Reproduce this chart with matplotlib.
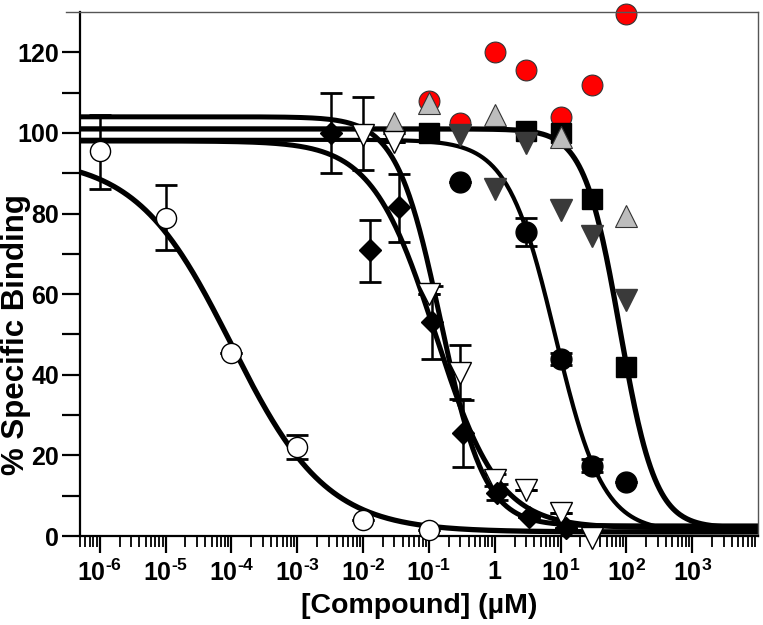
import numpy as np
import matplotlib
matplotlib.use("Agg")
import matplotlib.pyplot as plt
from matplotlib.lines import Line2D
from matplotlib.ticker import FixedLocator, NullFormatter

plt.rcParams['font.family'] = ['Liberation Sans', 'DejaVu Sans']
plt.rcParams['font.weight'] = 'bold'
plt.rcParams['mathtext.fontset'] = 'custom'
plt.rcParams['mathtext.rm'] = 'Liberation Sans:bold'
plt.rcParams['mathtext.bf'] = 'Liberation Sans:bold'
plt.rcParams['mathtext.default'] = 'bf'

# ---------------- data ----------------
# open circles
oc_x = [1e-6, 1e-5, 1e-4, 1e-3, 1e-2, 1e-1]
oc_y = [95.5, 79, 45.5, 22, 4, 1.5]
oc_lo = [86, 71, 45.5, 19, 4, 1.5]
oc_hi = [104.5, 87, 45.5, 25, 4, 1.5]

# black diamonds
di_x = [0.0033, 0.0126, 0.035, 0.11, 0.33, 1.1, 3.3, 12]
di_y = [100, 71, 81.5, 53, 25.5, 10.7, 4.7, 2]
di_lo = [90, 63, 73, 44, 17, 9, 4.7, 2]
di_hi = [110, 78.5, 89.7, 62, 33.7, 13, 4.7, 2]

# open down-triangles
ot_x = [0.01, 0.03, 0.1, 0.3, 1, 3, 10, 30]
ot_y = [99.4, 97.7, 60, 40.5, 13.9, 11.4, 5.7, -0.5]
ot_lo = [90.7, 97.7, 60, 34, 12.5, 11.4, 5.7, -0.5]
ot_hi = [109, 97.7, 60, 47.4, 15.5, 11.4, 5.7, -0.5]

# black circles
bc_x = [0.3, 3, 10, 30, 100]
bc_y = [87.8, 75.4, 44, 17.4, 13.4]
bc_lo = [87.8, 72, 42.5, 16, 13.4]
bc_hi = [87.8, 78.8, 45.5, 19, 13.4]

# black squares
sq_x = [0.1, 3, 10, 30, 100]
sq_y = [100, 100.5, 100, 83.5, 42]

# dark grey down-triangles
dt_x = [0.3, 1, 3, 10, 30, 100]
dt_y = [99.5, 86, 97.5, 81, 74.5, 58.5]

# light grey up-triangles
gt_x = [0.03, 0.1, 1, 10, 100]
gt_y = [102.5, 107.5, 104.5, 99, 79.5]

# red circles
rc_x = [0.1, 0.3, 1, 3, 10, 30, 100]
rc_y = [108, 102.5, 120, 115.5, 104, 112, 129.5]

# fitted curve parameters: top, bottom, logIC50, hill slope
fit_open_circle = [94, 1, -4.0, 0.6]
fit_diamond = [98, 2, -0.9, 0.9]
fit_open_tri = [104, 2.5, -0.82, 1.3]
fit_black_circle = [98.3, 1, 0.92, 1.2]
fit_square = [101, 2, 1.9, 1.6]

xtick_vals = [1e-6, 1e-5, 1e-4, 1e-3, 1e-2, 1e-1, 1, 10, 100, 1000]
xtick_labels = [r'$10^{\text{-}6}$', r'$10^{\text{-}5}$', r'$10^{\text{-}4}$',
                r'$10^{\text{-}3}$', r'$10^{\text{-}2}$', r'$10^{\text{-}1}$',
                '1', r'$10^{1}$', r'$10^{2}$', r'$10^{3}$']
ytick_vals = [0, 20, 40, 60, 80, 100, 120]


def logistic(x, p):
    top, bot, logic50, h = p
    return bot + (top - bot) / (1 + (x / 10 ** logic50) ** h)


fig = plt.figure(figsize=(7.63, 6.25), dpi=100)
ax = fig.add_axes([80 / 763, 1 - 536 / 625, (758 - 80) / 763, (536 - 12) / 625])
ax.set_xscale('log')
ax.set_xlim(5e-7, 1e4)
ax.set_ylim(0, 130)

xs = np.logspace(np.log10(5e-7), 4, 600)
for p, lw in [(fit_open_circle, 3.8), (fit_diamond, 3.6), (fit_open_tri, 3.6),
              (fit_black_circle, 3.0), (fit_square, 3.8)]:
    ax.plot(xs, logistic(xs, p), color='black', lw=lw, zorder=2, solid_capstyle='butt')

# scatter series
ax.plot(rc_x, rc_y, 'o', ms=15, mfc='#ff0000', mec='#333333', mew=0.8, zorder=3, clip_on=False)
ax.plot(sq_x, sq_y, 's', ms=15, mfc='black', mec='black', zorder=4, clip_on=False)
ax.plot(dt_x, dt_y, 'v', ms=16, mfc='#3a3a3a', mec='#3a3a3a', zorder=5, clip_on=False)
ax.plot(gt_x, gt_y, '^', ms=16, mfc='#bdbdbd', mec='#333333', mew=0.8, zorder=6, clip_on=False)

eb_kw = dict(fmt='none', ecolor='black', elinewidth=1.8, capsize=8, capthick=2.0, zorder=7)
ax.errorbar(bc_x, bc_y, yerr=[np.subtract(bc_y, bc_lo), np.subtract(bc_hi, bc_y)], **eb_kw)
ax.errorbar(ot_x, ot_y, yerr=[np.subtract(ot_y, ot_lo), np.subtract(ot_hi, ot_y)], **eb_kw)
ax.errorbar(di_x, di_y, yerr=[np.subtract(di_y, di_lo), np.subtract(di_hi, di_y)], **eb_kw)
ax.errorbar(oc_x, oc_y, yerr=[np.subtract(oc_y, oc_lo), np.subtract(oc_hi, oc_y)], **eb_kw)

ax.plot(bc_x, bc_y, 'o', ms=15, mfc='black', mec='black', zorder=8, clip_on=False)
ax.plot(ot_x, ot_y, 'v', ms=16, mfc='white', mec='black', mew=1.0, zorder=9, clip_on=False)
ax.plot(di_x, di_y, 'D', ms=11, mfc='black', mec='black', zorder=10, clip_on=False)
ax.plot(oc_x, oc_y, 'o', ms=14.5, mfc='white', mec='black', mew=1.0, zorder=11, clip_on=False)

# axes styling
for s in ['left', 'bottom']:
    ax.spines[s].set_linewidth(1.6)
    ax.spines[s].set_color('black')
for s in ['top', 'right']:
    ax.spines[s].set_linewidth(1.0)
    ax.spines[s].set_color('#555555')
ax.spines['top'].set_visible(False)
fig.add_artist(Line2D([66 / 763, 758 / 763], [1 - 12 / 625, 1 - 12 / 625],
                      color='#555555', lw=1.0, transform=fig.transFigure))

ax.set_xticks(xtick_vals)
ax.set_xticklabels(xtick_labels)
minors = [m * 10.0 ** e for e in range(-7, 4) for m in range(2, 10)]
minors = [v for v in minors if 5e-7 <= v <= 1e4]
ax.xaxis.set_minor_locator(FixedLocator(minors))
ax.xaxis.set_minor_formatter(NullFormatter())
ax.set_yticks(ytick_vals)
ax.set_yticks([10, 30, 50, 70, 90, 110], minor=True)

ax.tick_params(axis='x', which='major', direction='out', length=12, width=1.6,
               labelsize=18, pad=5, top=False)
ax.tick_params(axis='x', which='minor', direction='out', length=8, width=1.3, top=False)
ax.tick_params(axis='y', which='both', direction='out', length=13, width=1.6,
               labelsize=18, pad=2, right=False)
for lab in ax.get_yticklabels() + ax.get_xticklabels():
    lab.set_fontweight('bold')

ax.set_xlabel('[Compound] (µM)', fontsize=20.5, fontweight='bold')
ax.xaxis.set_label_coords(0.5, -(606 - 536) / 524, transform=ax.transAxes)
ax.xaxis.label.set_va('center')
ax.set_ylabel('% Specific Binding', fontsize=22.5, fontweight='bold')
ax.yaxis.set_label_coords(-(80 - 16) / 678, (536 - 335) / 524, transform=ax.transAxes)
ax.yaxis.label.set_va('center')

fig.savefig('out.png', dpi=100)
